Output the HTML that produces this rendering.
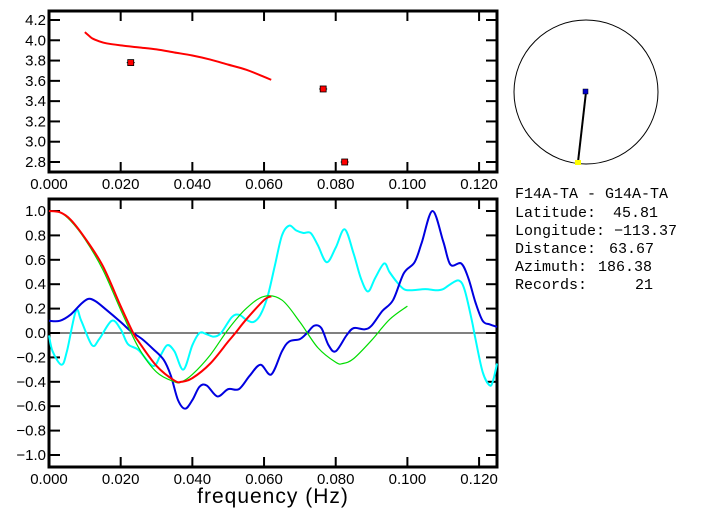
<!DOCTYPE html>
<html><head><meta charset="utf-8"><style>
html,body{margin:0;padding:0;background:#fff;}
svg{display:block;font-family:"Liberation Sans",sans-serif;}
</style></head><body>
<svg id="c" width="702" height="519" viewBox="0 0 702 519">
<g id="topG"></g>
<g id="botG"></g>
<g>
<circle cx="586" cy="92" r="72" fill="none" stroke="#000" stroke-width="1"/>
<line x1="586" y1="92" x2="578" y2="162" stroke="#000" stroke-width="2"/>
<rect x="583" y="89" width="5" height="5" fill="#0000cc" stroke="#000" stroke-width="0.5"/>
<rect x="575" y="160" width="6" height="5" fill="#ffff00"/>
</g>
<g font-size="15" fill="#000" font-family="Liberation Mono, monospace">
<text x="515" y="198" xml:space="preserve">F14A-TA - G14A-TA</text>
<text x="515" y="217">Latitude:</text><text x="658" y="217" text-anchor="end">45.81</text>
<text x="515" y="235">Longitude:</text><text x="677" y="235" text-anchor="end">−113.37</text>
<text x="515" y="253">Distance:</text><text x="654" y="253" text-anchor="end">63.67</text>
<text x="515" y="271">Azimuth:</text><text x="652" y="271" text-anchor="end">186.38</text>
<text x="515" y="289">Records:</text><text x="653" y="289" text-anchor="end">21</text>
</g>
<text x="273" y="503" font-size="21" text-anchor="middle" letter-spacing="1">frequency (Hz)</text>
</svg>
<script>
const xTicks=["0.000","0.020","0.040","0.060","0.080","0.100","0.120"];
const topYTicks=["2.8","3.0","3.2","3.4","3.6","3.8","4.0","4.2"];
const botYTicks=["−1.0","−0.8","−0.6","−0.4","−0.2","0.0","0.2","0.4","0.6","0.8","1.0"];
const velF=[0.010,0.011,0.012,0.014,0.016,0.020,0.025,0.030,0.035,0.040,0.045,0.050,0.055,0.060,0.062];
const velV=[4.08,4.05,4.02,3.99,3.97,3.95,3.93,3.91,3.88,3.85,3.81,3.76,3.71,3.64,3.61];
const ptF=[0.0228,0.0765,0.0825];
const ptV=[3.78,3.52,2.80];
const redF=[0,0.003,0.006,0.010,0.015,0.020,0.0235,0.025,0.030,0.035,0.037,0.040,0.045,0.050,0.052,0.055,0.060,0.062];
const redV=[1.0,0.99,0.93,0.78,0.55,0.22,0.0,-0.07,-0.27,-0.39,-0.40,-0.37,-0.25,-0.07,0.0,0.11,0.27,0.30];
const greenF=[0,0.003,0.006,0.010,0.015,0.020,0.025,0.030,0.035,0.037,0.040,0.045,0.050,0.055,0.060,0.065,0.070,0.075,0.080,0.082,0.085,0.090,0.095,0.100];
const greenV=[1.0,0.99,0.92,0.77,0.52,0.19,-0.12,-0.32,-0.40,-0.40,-0.34,-0.18,0.03,0.20,0.30,0.27,0.09,-0.12,-0.24,-0.25,-0.21,-0.06,0.11,0.22];
const blueF=[0,0.003,0.006,0.009,0.011,0.013,0.016,0.020,0.023,0.026,0.029,0.032,0.034,0.036,0.038,0.040,0.042,0.044,0.047,0.050,0.053,0.056,0.059,0.062,0.065,0.067,0.070,0.072,0.074,0.076,0.078,0.080,0.083,0.085,0.088,0.090,0.093,0.096,0.099,0.102,0.104,0.107,0.110,0.112,0.115,0.117,0.119,0.121,0.123,0.125];
const blueV=[0.10,0.10,0.15,0.24,0.28,0.26,0.19,0.09,0.01,-0.05,-0.13,-0.22,-0.35,-0.55,-0.62,-0.55,-0.44,-0.43,-0.52,-0.46,-0.46,-0.35,-0.26,-0.34,-0.15,-0.07,-0.05,0.0,0.06,0.04,-0.10,-0.15,-0.02,0.04,0.03,0.06,0.18,0.27,0.49,0.58,0.74,1.0,0.75,0.56,0.57,0.45,0.25,0.10,0.07,0.05];
const cyanF=[0,0.001,0.0035,0.005,0.0075,0.009,0.012,0.014,0.0175,0.020,0.022,0.025,0.029,0.031,0.033,0.035,0.0375,0.040,0.042,0.044,0.046,0.048,0.051,0.053,0.055,0.057,0.059,0.061,0.063,0.065,0.067,0.069,0.071,0.073,0.075,0.0775,0.080,0.0825,0.085,0.087,0.089,0.091,0.0935,0.095,0.097,0.099,0.101,0.105,0.108,0.110,0.112,0.1144,0.116,0.118,0.119,0.121,0.123,0.124,0.125];
const cyanV=[-0.02,-0.15,-0.26,-0.15,0.18,0.10,-0.10,-0.05,0.10,0.03,-0.09,-0.14,-0.27,-0.19,-0.10,-0.15,-0.30,-0.10,0.0,-0.01,-0.03,0.0,0.13,0.15,0.11,0.09,0.15,0.30,0.55,0.80,0.88,0.84,0.82,0.82,0.72,0.58,0.70,0.85,0.65,0.45,0.34,0.45,0.57,0.50,0.42,0.36,0.35,0.36,0.35,0.36,0.40,0.43,0.35,0.10,-0.05,-0.32,-0.43,-0.38,-0.25];

const NS="http://www.w3.org/2000/svg";
function mk(parent,tag,attrs){const e=document.createElementNS(NS,tag);for(const k in attrs)e.setAttribute(k,attrs[k]);parent.appendChild(e);return e;}
const X0=49,X1=497;
const xs=f=>X0+f/0.125*(X1-X0);
const ytop=v=>20+(4.2-v)*(142/1.4);
const ybot=v=>333-v*122;
function smooth(F,V,sy){const p=F.map((f,i)=>[xs(f),sy(V[i])]);let d="M"+p[0][0]+","+p[0][1];
for(let i=0;i<p.length-1;i++){const a=p[Math.max(0,i-1)],b=p[i],c=p[i+1],e=p[Math.min(p.length-1,i+2)];
d+=" C"+(b[0]+(c[0]-a[0])/6)+","+(b[1]+(c[1]-a[1])/6)+" "+(c[0]-(e[0]-b[0])/6)+","+(c[1]-(e[1]-b[1])/6)+" "+c[0]+","+c[1];}return d;}
function frame(g,t0,b0,yT,yfn,yvals,name){
  const r=mk(g,"rect",{x:X0,y:t0,width:X1-X0,height:b0-t0,fill:"none",stroke:"#000","stroke-width":3});
  
  
  xTicks.forEach((t,i)=>{const x=xs(i*0.02);
    mk(g,"line",{x1:x,y1:t0,x2:x,y2:t0+10,stroke:"#000","stroke-width":2});
    mk(g,"line",{x1:x,y1:b0,x2:x,y2:b0-10,stroke:"#000","stroke-width":2});
    const tx=mk(g,"text",{x:x,y:b0+17,"font-size":15,"text-anchor":"middle"});tx.textContent=t;
    
    });
  yT.forEach((t,i)=>{const y=yfn(yvals[i]);
    mk(g,"line",{x1:X0,y1:y,x2:X0+11,y2:y,stroke:"#000","stroke-width":2});
    mk(g,"line",{x1:X1,y1:y,x2:X1-11,y2:y,stroke:"#000","stroke-width":2});
    const tx=mk(g,"text",{x:X0-3,y:y+5,"font-size":15,"text-anchor":"end"});tx.textContent=t;
    
    });
}
const topG=document.getElementById("topG"),botG=document.getElementById("botG");
frame(topG,11,172,topYTicks,ytop,topYTicks.map(parseFloat),"top");
frame(botG,199,467,botYTicks,ybot,botYTicks.map(s=>parseFloat(s.replace("−","-"))),"bottom");
const vp=mk(topG,"path",{d:smooth(velF,velV,ytop),fill:"none",stroke:"#ff0000","stroke-width":2});


ptF.forEach((f,i)=>{const x=xs(f),y=ytop(ptV[i]);
  mk(topG,"line",{x1:x-4,y1:y,x2:x+4,y2:y,stroke:"#000","stroke-width":1});
  const r=mk(topG,"rect",{x:x-3,y:y-3,width:6,height:6,fill:"#ff0000",stroke:"#000","stroke-width":0.8});
  
  });
const zl=mk(botG,"line",{x1:X0,y1:ybot(0),x2:X1,y2:ybot(0),stroke:"#000","stroke-width":1});


[[cyanF,cyanV,"#00ffff",2,"cyan-series"],[blueF,blueV,"#0000e0",2,"blue-series"],[greenF,greenV,"#00dd00",1.2,"green-series"],[redF,redV,"#ff0000",2,"red-series"]].forEach(s=>{
  const p=mk(botG,"path",{d:smooth(s[0],s[1],ybot),fill:"none",stroke:s[2],"stroke-width":s[3]});
  
  });
</script>
</body></html>
